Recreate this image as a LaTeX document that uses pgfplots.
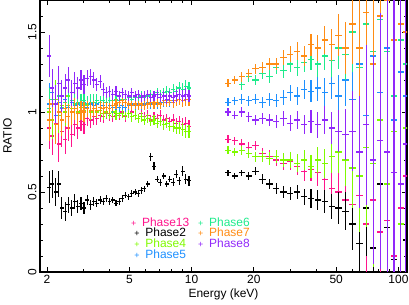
\documentclass[border=0pt]{standalone}
\usepackage{fontspec}
\setmainfont{Liberation Sans}
\usepackage{pgfplots}
\pgfplotsset{compat=1.18}
\usepackage{pgfplotstable}
\definecolor{c13}{RGB}{255,20,140}
\definecolor{c2}{RGB}{0,0,0}
\definecolor{c4}{RGB}{127,250,0}
\definecolor{c5}{RGB}{30,144,255}
\definecolor{c6}{RGB}{30,235,140}
\definecolor{c7}{RGB}{255,140,20}
\definecolor{c8}{RGB}{145,40,250}

\pgfplotstableread{
E e eb p13 p2 p4 p5 p6 p7 p8
2.05 0.13 0.10 0.90 0.53 1.00 1.05 1.02 0.95 1.35
2.12 0.12 0.09 0.85 0.55 0.95 1.12 1.08 1.05 1.15
2.20 0.12 0.09 0.93 0.50 1.08 0.98 1.05 0.92 1.05
2.28 0.11 0.08 0.80 0.55 0.98 1.06 1.10 1.00 1.18
2.36 0.10 0.07 0.88 0.40 1.04 1.02 1.03 0.95 1.10
2.45 0.09 0.06 0.83 0.38 1.00 1.08 1.06 1.02 1.15
2.53 0.08 0.05 0.90 0.42 1.10 1.03 1.04 0.97 1.20
2.63 0.08 0.05 0.86 0.40 1.02 1.06 1.07 1.00 1.12
2.72 0.07 0.045 0.92 0.44 1.05 1.04 1.05 1.02 1.18
2.82 0.07 0.04 0.90 0.41 1.00 1.05 1.06 0.99 1.15
2.92 0.06 0.04 0.94 0.43 1.03 1.04 1.05 1.01 1.20
3.02 0.06 0.035 0.92 0.40 1.01 1.06 1.07 1.00 1.17
3.13 0.05 0.03 0.96 0.45 1.04 1.03 1.05 1.02 1.21
3.25 0.05 0.03 0.95 0.42 1.00 1.05 1.06 1.01 1.22
3.36 0.05 0.03 0.97 0.44 1.02 1.04 1.06 1.02 1.20
3.48 0.04 0.025 0.96 0.43 1.00 1.05 1.07 1.01 1.17
3.61 0.04 0.025 0.98 0.45 1.01 1.03 1.06 1.03 1.19
3.74 0.04 0.02 0.97 0.44 0.99 1.04 1.07 1.02 1.14
3.87 0.035 0.02 0.99 0.46 1.00 1.03 1.06 1.03 1.12
4.01 0.035 0.02 0.98 0.44 0.99 1.04 1.07 1.02 1.13
4.16 0.035 0.02 0.97 0.45 1.00 1.03 1.07 1.04 1.11
4.31 0.03 0.02 0.99 0.43 0.98 1.04 1.08 1.05 1.13
4.46 0.03 0.02 0.98 0.44 0.99 1.03 1.07 1.06 1.10
4.62 0.03 0.02 1.00 0.46 0.99 1.04 1.08 1.07 1.12
4.79 0.03 0.02 0.97 0.48 0.98 1.03 1.08 1.06 1.11
4.96 0.03 0.02 0.99 0.47 0.99 1.04 1.09 1.05 1.10
5.14 0.03 0.02 1.00 0.49 0.97 1.05 1.08 1.04 1.12
5.33 0.03 0.02 0.98 0.50 0.98 1.04 1.09 1.05 1.10
5.52 0.03 0.02 0.96 0.49 0.96 1.05 1.09 1.04 1.11
5.72 0.03 0.02 0.99 0.51 0.97 1.04 1.10 1.05 1.09
5.92 0.03 0.02 0.97 0.52 0.95 1.05 1.09 1.04 1.10
6.13 0.03 0.02 0.98 0.55 0.96 1.06 1.10 1.05 1.11
6.36 0.03 0.025 0.95 0.72 0.94 1.05 1.11 1.06 1.09
6.58 0.03 0.025 0.97 0.66 0.95 1.06 1.10 1.05 1.10
6.82 0.03 0.02 0.96 0.58 0.93 1.05 1.12 1.06 1.11
7.07 0.03 0.02 0.98 0.56 0.94 1.06 1.11 1.05 1.09
7.32 0.03 0.02 0.95 0.60 0.92 1.06 1.12 1.07 1.10
7.58 0.03 0.02 0.96 0.55 0.93 1.07 1.13 1.06 1.08
7.86 0.03 0.02 0.94 0.58 0.91 1.06 1.12 1.07 1.10
8.14 0.035 0.025 0.95 0.56 0.91 1.07 1.14 1.06 1.09
8.43 0.035 0.025 0.93 0.61 0.90 1.07 1.13 1.07 1.10
8.74 0.035 0.025 0.94 0.57 0.90 1.08 1.15 1.08 1.11
9.05 0.04 0.03 0.92 0.63 0.89 1.07 1.14 1.07 1.10
9.38 0.04 0.03 0.93 0.58 0.88 1.08 1.16 1.08 1.11
9.72 0.04 0.03 0.91 0.57 0.88 1.08 1.15 1.08 1.10
}\low

\pgfplotstableread{
E e eb p13 p2 p4 p5 p6 p7 p8
15.0 0.025 0.02 0.83 0.62 0.76 1.06 1.18 1.18 1.00
16.2 0.025 0.02 0.82 0.60 0.75 1.07 1.20 1.20 0.98
17.5 0.03 0.02 0.80 0.62 0.76 1.08 1.17 1.22 1.00
18.9 0.03 0.025 0.78 0.60 0.74 1.07 1.22 1.24 0.97
20.4 0.03 0.025 0.79 0.63 0.72 1.08 1.20 1.27 0.95
22.0 0.035 0.03 0.74 0.58 0.72 1.06 1.24 1.28 0.96
23.8 0.04 0.03 0.72 0.55 0.71 1.08 1.22 1.30 0.95
25.7 0.04 0.035 0.70 0.52 0.72 1.07 1.28 1.30 0.94
27.8 0.045 0.04 0.68 0.50 0.70 1.09 1.26 1.34 0.96
30.0 0.05 0.04 0.69 0.49 0.70 1.12 1.30 1.36 0.93
32.4 0.055 0.045 0.66 0.50 0.68 1.10 1.28 1.38 0.95
35.0 0.06 0.05 0.63 0.47 0.70 1.14 1.31 1.35 0.92
37.8 0.07 0.06 0.64 0.46 0.66 1.13 1.33 1.42 0.94
40.8 0.08 0.065 0.62 0.45 0.70 1.15 1.30 1.40 0.92
44.1 0.09 0.07 0.58 0.44 0.68 1.12 1.35 1.45 0.95
47.6 0.10 0.08 0.52 0.41 0.72 1.18 1.32 1.42 0.90
51.4 0.13 0.10 0.50 0.40 0.75 1.10 1.40 1.48 0.88
55.5 0.16 0.12 0.45 0.38 0.70 1.20 1.36 1.40 0.86
60.0 0.25 0.16 0.42 0.30 0.65 1.08 1.50 1.55 0.88
64.8 0.35 0.22 0.48 0.18 0.60 1.30 1.28 1.40 0.75
70.0 0.50 0.30 0.30 0.40 0.78 0.98 1.55 1.62 0.92
75.6 0.65 0.38 0.45 0.15 0.68 1.35 1.38 1.30 0.70
81.6 0.80 0.45 0.25 0.55 0.95 1.12 1.58 1.60 0.82
88.1 0.95 0.55 0.32 0.28 0.55 1.40 1.38 1.70 0.75
95.2 1.10 0.65 0.10 0.08 0.88 0.95 1.10 1.45 0.62
102.8 1.30 0.75 0.40 0.30 0.30 1.25 1.45 1.55 0.55
108.5 1.50 0.85 0.60 0.20 0.90 1.10 1.30 1.50 0.80
}\high

\pgfplotsset{
  serl/.style={draw=none, mark=none, forget plot,
    error bars/.cd, x dir=both, x fixed relative=0.022, y dir=both, y explicit,
    error mark=none, error bar style={draw=#1, line width=1.1pt, line cap=butt}},
  serh/.style={draw=none, mark=none, forget plot,
    error bars/.cd, x dir=both, x fixed relative=0.035, y dir=both, y explicit,
    error mark=none, error bar style={draw=#1, line width=1.1pt, line cap=butt}},
}
\newcommand{\legtxt}[2]{\textcolor{#1}{\makebox[11pt][l]{\fontsize{9}{9}\selectfont +}#2}}

\begin{document}
\begin{tikzpicture}
\begin{axis}[
  xmode=log, scale only axis, width=367bp, height=272bp,
  xmin=1.85, xmax=110, ymin=0, ymax=1.7,
  xtick={2,5,10,20,50,100}, xticklabels={2,5,10,20,50,100},
  minor xtick={3,4,6,7,8,9,30,40,60,70,80,90},
  ytick={0,0.5,1,1.5}, yticklabels={0,0.5,1,1.5},
  minor ytick={0.1,0.2,0.3,0.4,0.6,0.7,0.8,0.9,1.1,1.2,1.3,1.4,1.6},
  major tick length=5bp, minor tick length=2.8bp,
  every tick/.style={black, line width=0.8pt},
  axis line style={line width=1.1pt},
  tick label style={font=\fontsize{12}{14}\selectfont},
  label style={font=\fontsize{12}{14}\selectfont},
  yticklabel style={rotate=90, anchor=south},
  xlabel={Energy (keV)}, ylabel={RATIO},
  xlabel style={yshift=2bp},
  ylabel style={at={(axis description cs:-0.0886,0.5)}, anchor=center},
  legend columns=2,
  legend image code/.code={},
  legend style={at={(axis description cs:0.245,0.205)}, anchor=north west,
    draw=none, fill=none, inner sep=0pt, font=\fontsize{12}{12}\selectfont,
    row sep=-1.5pt, nodes={inner sep=1pt},
    /tikz/every odd column/.append style={column sep=0pt},
    /tikz/every even column/.append style={column sep=7pt}},
]
\addplot[serl=c13] table[x=E, y=p13, y error=e] {\low};
\addplot[serh=c13] table[x=E, y=p13, y error=e] {\high};
\addplot[serl=c2] table[x=E, y=p2, y error=eb] {\low};
\addplot[serh=c2] table[x=E, y=p2, y error=eb] {\high};
\addplot[serl=c4] table[x=E, y=p4, y error=e] {\low};
\addplot[serh=c4] table[x=E, y=p4, y error=e] {\high};
\addplot[serl=c5] table[x=E, y=p5, y error=e] {\low};
\addplot[serh=c5] table[x=E, y=p5, y error=e] {\high};
\addplot[serl=c6] table[x=E, y=p6, y error=e] {\low};
\addplot[serh=c6] table[x=E, y=p6, y error=e] {\high};
\addplot[serl=c7] table[x=E, y=p7, y error=e] {\low};
\addplot[serh=c7] table[x=E, y=p7, y error=e] {\high};
\addplot[serl=c8] table[x=E, y=p8, y error=e] {\low};
\addplot[serh=c8] table[x=E, y=p8, y error=e] {\high};

\addlegendimage{empty legend}\addlegendentry{\legtxt{c13}{Phase13}}
\addlegendimage{empty legend}\addlegendentry{\legtxt{c6}{Phase6}}
\addlegendimage{empty legend}\addlegendentry{\legtxt{c2}{Phase2}}
\addlegendimage{empty legend}\addlegendentry{\legtxt{c7}{Phase7}}
\addlegendimage{empty legend}\addlegendentry{\legtxt{c4}{Phase4}}
\addlegendimage{empty legend}\addlegendentry{\legtxt{c8}{Phase8}}
\addlegendimage{empty legend}\addlegendentry{\legtxt{c5}{Phase5}}
\end{axis}
\pgfresetboundingbox
\useasboundingbox (current axis.south west) ++(-40bp,-33bp) rectangle ++(409bp,305bp);
\end{tikzpicture}
\end{document}
